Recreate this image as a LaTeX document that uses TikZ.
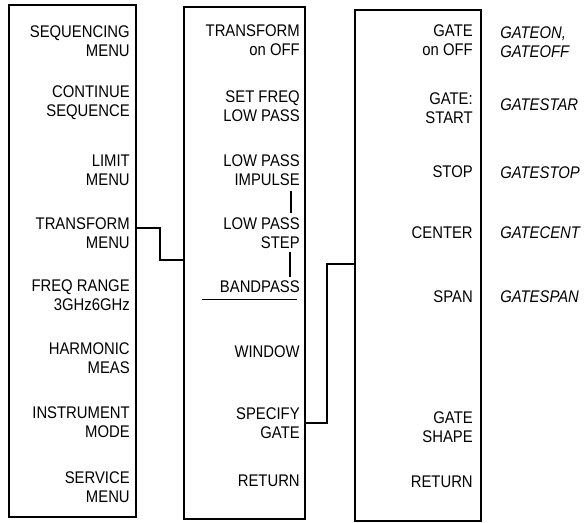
\documentclass[tikz,border=0pt]{standalone}
\usepackage{fontspec}
\setmainfont{Liberation Sans}[FakeStretch=0.88]
\usetikzlibrary{fit}
\begin{document}
\begin{tikzpicture}[x=0.025cm, y=-0.025cm, font=\fontsize{12}{13.5}\selectfont]
    \tikzset{
      pnl/.style={draw, line width=1.3pt, inner sep=0pt},
      key/.style={anchor=east, align=right, inner sep=0pt},
      cmd/.style={anchor=west, align=left, inner sep=0pt,
                  font=\fontsize{12}{13.5}\selectfont\itshape},
      wr/.style={line width=0.8pt},
    }
    \useasboundingbox (0,0) rectangle (585,523);

    % the three softkey menus
    \node[pnl, fit={(9,5) (136,517)}] (mainmenu) {};
    \node[pnl, fit={(184,7) (305,519)}] (xfrmenu) {};
    \node[pnl, fit={(355,10) (481,521)}] (gatemenu) {};

    \node[key] (seqmenu) at (130,41) {SEQUENCING\\MENU};
    \node[key] (contseq) at (130,103) {CONTINUE\\SEQUENCE};
    \node[key] (limmenu) at (130,170) {LIMIT\\MENU};
    \node[key] (tfmenu) at (130,233) {TRANSFORM\\MENU};
    \node[key] (freqrng) at (130,295) {FREQ RANGE\\3GHz6GHz};
    \node[key] (harmeas) at (130,358) {HARMONIC\\MEAS};
    \node[key] (instmode) at (130,422) {INSTRUMENT\\MODE};
    \node[key] (svcmenu) at (130,487) {SERVICE\\MENU};

    \node[key] (tfonoff) at (300,40) {TRANSFORM\\on OFF};
    \node[key] (setfreq) at (300,106) {SET FREQ\\LOW PASS};
    \node[key] (lpimp) at (300,170) {LOW PASS\\IMPULSE};
    \node[key] (lpstep) at (300,233) {LOW PASS\\STEP};
    \node[key] (bandpass) at (300,287) {BANDPASS};
    \node[key] (window) at (300,352) {WINDOW};
    \node[key] (spgate) at (300,423) {SPECIFY\\GATE};
    \node[key] (xfrret) at (300,481) {RETURN};

    \node[key] (gateonoff) at (473,40) {GATE\\on OFF};
    \node[key] (gatestart) at (473,108) {GATE:\\START};
    \node[key] (gatestop) at (473,172) {STOP};
    \node[key] (gatecent) at (473,233) {CENTER};
    \node[key] (gatespan) at (473,297) {SPAN};
    \node[key] (gateshape) at (473,427) {GATE\\SHAPE};
    \node[key] (gateret) at (473,482) {RETURN};

    % programming mnemonics
    \node[cmd] (onoffcmd) at (500,42) {GATEON,\\GATEOFF};
    \node[cmd] (startcmd) at (500,105) {GATESTAR};
    \node[cmd] (stopcmd) at (500,173) {GATESTOP};
    \node[cmd] (centcmd) at (500,233) {GATECENT};
    \node[cmd] (spancmd) at (500,297) {GATESPAN};

    % links between menus
    \coordinate (j0) at (160,228);
    \coordinate (j1) at (160,260);
    \coordinate (j2) at (327,423);
    \coordinate (j3) at (327,264);
    \draw[wr] (mainmenu.east |- j0) -- (j0) -- (j1) -- (xfrmenu.west |- j1);
    \draw[wr] (xfrmenu.east |- j2) -- (j2) -- (j3) -- (gatemenu.west |- j3);

    \draw[wr] (lpimp.south east) ++(-9,5) -- ++(0,22);
    \draw[wr] (lpstep.south east) ++(-10,3) -- ++(0,25);
    \draw[wr] (bandpass.south east) ++(-3,6) -- ++(-95,0);
  \end{tikzpicture}
\end{document}
